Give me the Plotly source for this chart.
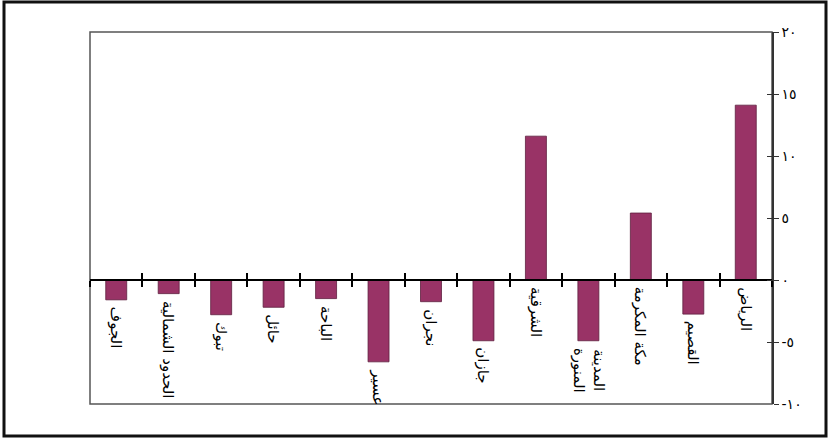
import plotly.graph_objects as go

regions = ["الجوف", "الحدود الشمالية", "تبوك", "حائل", "الباحة", "عسير", "نجران",
           "جازان", "الشرقية", "المدينة<br>المنورة", "مكة المكرمة", "القصيم", "الرياض"]
values = [-1.6, -1.1, -2.8, -2.2, -1.5, -6.6, -1.75, -4.9, 11.6, -4.9, 5.4, -2.75, 14.1]
y_tickvals = [-10, -5, 0, 5, 10, 15, 20]
y_ticktext = ["-١٠", "-٥", "٠", "٥", "١٠", "١٥", "٢٠"]

y_min, y_max = -10, 20
cat_names = [r.replace("<br>", " ") for r in regions]

FONT = "DejaVu Sans"
BAR = "#993366"

fig = go.Figure()
fig.add_trace(go.Bar(x=cat_names, y=values, width=0.4,
                     marker=dict(color=BAR, line=dict(color="#5e1f3f", width=0.8)),
                     hoverinfo="skip", showlegend=False))
# invisible helper traces so overlay axes (for crossing ticks) render
fig.add_trace(go.Bar(x=cat_names, y=values, xaxis="x2", yaxis="y", opacity=0,
                     hoverinfo="skip", showlegend=False))
fig.add_trace(go.Bar(x=cat_names, y=values, xaxis="x", yaxis="y2", opacity=0,
                     hoverinfo="skip", showlegend=False))

zero_pos = (0 - y_min) / (y_max - y_min)

xcommon = dict(type="category", categoryorder="array", categoryarray=cat_names,
               tickson="boundaries", showgrid=False, showticklabels=False,
               showline=True, linecolor="#000", linewidth=1.5,
               tickcolor="#000", tickwidth=1.5, ticklen=6,
               anchor="free", position=zero_pos, domain=[0, 1])
fig.update_layout(
    xaxis=dict(**xcommon, ticks="outside"),
    xaxis2=dict(**xcommon, ticks="inside", overlaying="x"),
    yaxis=dict(range=[y_min, y_max], side="right", tickmode="array",
               tickvals=y_tickvals, ticktext=y_ticktext, ticks="outside",
               ticklen=5, tickwidth=1.2, tickcolor="#333", showgrid=False,
               zeroline=False, showline=True, linecolor="#333", linewidth=1.5,
               tickfont=dict(family=FONT, size=14, color="#000"), anchor="x"),
    yaxis2=dict(range=[y_min, y_max], side="right", overlaying="y", tickmode="array",
                tickvals=y_tickvals, ticks="inside", ticklen=5, tickwidth=1.2,
                tickcolor="#333", showgrid=False, zeroline=False, showticklabels=False,
                showline=False, anchor="x"),
    width=831, height=438,
    margin=dict(l=90, r=59, t=32, b=34),
    paper_bgcolor="white", plot_bgcolor="white",
    showlegend=False,
)

# inner plot frame
fig.add_shape(type="rect", xref="paper", yref="paper", x0=0, x1=1, y0=0, y1=1,
              line=dict(color="#555", width=1.5), layer="below")
# outer chart frame
fig.add_shape(type="rect", xref="paper", yref="paper",
              x0=(4 - 90) / 682, x1=(826 - 90) / 682,
              y0=(404 - 436) / 372, y1=(404 - 2) / 372,
              line=dict(color="#111", width=3))

for name, label, v in zip(cat_names, regions, values):
    fig.add_annotation(x=name, y=min(v, 0), xref="x", yref="y", text=label,
                       textangle=90, showarrow=False, xanchor="center", yanchor="top",
                       yshift=-5, font=dict(family=FONT, size=15, color="#000"))

fig.write_html("out.html", config={"displayModeBar": False},
               post_script="document.body.style.margin='0';document.body.style.overflow='hidden';")
